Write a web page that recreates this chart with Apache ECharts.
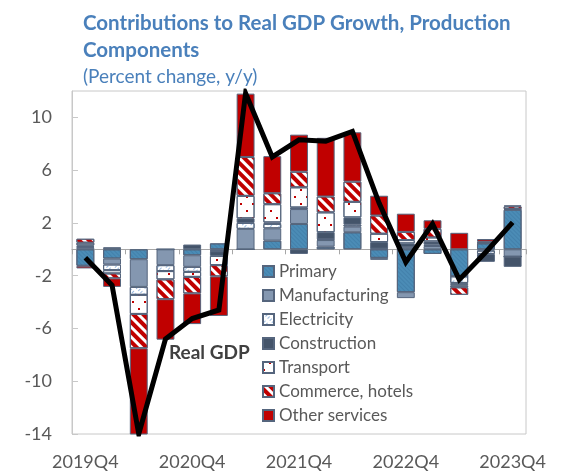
<!DOCTYPE html>
<html>
<head>
<meta charset="utf-8">
<script src="https://cdn.jsdelivr.net/npm/echarts@6/dist/echarts.min.js"></script>
<style>
  html, body { margin: 0; padding: 0; background: #fff; }
  #chart { width: 576px; height: 472px; }
</style>
</head>
<body>
<div id="chart"></div>
<script>
// Quarters on the category axis
const quarters = ['2019Q4','2020Q1','2020Q2','2020Q3','2020Q4','2021Q1','2021Q2','2021Q3',
  '2021Q4','2022Q1','2022Q2','2022Q3','2022Q4','2023Q1','2023Q2','2023Q3','2023Q4'];

// Contributions by production component (percentage points)
const primary       = [-1.25, -0.70, -0.75, 0.00, -0.45, 0.45, 0.00, 0.66, 1.92, 0.20, 1.29, -0.65, -3.25, -0.35, -2.05, 0.45, 3.00];
const manufacturing = [0.15, -0.45, -2.10, -1.20, -0.88, -0.10, 1.55, 0.93, 1.13, 0.50, 0.43, -0.15, -0.45, 0.25, 0.00, -0.10, -0.55];
const electricity   = [0.05, -0.43, -0.60, -0.45, -0.38, -0.05, 0.45, 0.33, 0.12, 0.05, 0.15, 0.05, 0.15, 0.10, -0.50, -0.25, 0.00];
const construction  = [0.10, 0.16, 0.00, 0.00, 0.36, -0.35, 0.35, 0.12, -0.35, 0.55, 0.55, 0.50, 0.30, 0.25, -0.18, -0.60, -0.78];
const transport     = [0.20, -0.25, -1.45, -0.63, -0.38, -0.70, 1.70, 1.38, 1.53, 1.50, 1.18, 0.63, 0.25, 0.30, -0.15, 0.05, 0.05];
const commerce      = [0.30, -0.37, -2.60, -1.50, -1.25, -0.85, 2.95, 0.83, 1.18, 1.20, 1.53, 1.38, 0.62, 0.65, -0.57, 0.08, 0.20];
const otherServices = [-0.20, -0.65, -6.55, -3.07, -2.33, -3.00, 4.80, 2.81, 2.81, 4.45, 3.74, 1.50, 1.38, 0.65, 1.25, 0.20, 0.08];

// Real GDP growth, y/y
const realGDP = [-0.64, -2.72, -14.0, -6.8, -5.25, -4.6, 11.83, 7.0, 8.3, 8.2, 8.94, 3.5, -0.97, 1.92, -2.3, -0.2, 2.04];

// Value-axis tick labels
const yTickLabels = [-14, -10, -6, -2, 2, 6, 10];

const FONT = 'Lato';
const GREY_TEXT = '#595959';
const TITLE_BLUE = '#4a80bb';
const OUTLINE = '#55657d';

const components = [
  { name: 'Primary', data: primary, style: {
      color: '#4b8cb6',
      decal: { symbol: 'rect', symbolSize: 1, color: 'rgba(30,80,120,0.18)',
               dashArrayX: [1, 0], dashArrayY: [1, 2], rotation: Math.PI / 4 } } },
  { name: 'Manufacturing', data: manufacturing, style: { color: '#8497b0' } },
  { name: 'Electricity', data: electricity, style: {
      color: '#ffffff',
      decal: { symbol: 'rect', symbolSize: 1, color: '#9bbbe0',
               dashArrayX: [3, 3], dashArrayY: [1, 2], rotation: -Math.PI / 4 } } },
  { name: 'Construction', data: construction, style: { color: '#44546a' } },
  { name: 'Transport', data: transport, style: {
      color: '#ffffff',
      decal: { symbol: 'rect', symbolSize: 1, color: '#c00000',
               dashArrayX: [[2, 10], [0, 6, 2, 4]], dashArrayY: [2, 5] } } },
  { name: 'Commerce, hotels', data: commerce, style: {
      color: '#ffffff',
      decal: { symbol: 'rect', symbolSize: 1, color: '#c00000',
               dashArrayX: [1, 0], dashArrayY: [4, 3], rotation: Math.PI / 4 } } },
  { name: 'Other services', data: otherServices, style: { color: '#c00000' } }
];

const barSeries = components.map(c => ({
  name: c.name,
  type: 'bar',
  stack: 'contrib',
  xAxisIndex: 0,
  yAxisIndex: 0,
  barWidth: '67%',
  data: c.data,
  itemStyle: Object.assign({ borderColor: OUTLINE, borderWidth: 1 }, c.style),
  emphasis: { disabled: true }
}));

const chart = echarts.init(document.getElementById('chart'), null, { renderer: 'canvas' });

chart.setOption({
  animation: false,
  backgroundColor: '#ffffff',
  title: {
    text: 'Contributions to Real GDP Growth, Production\nComponents',
    subtext: '(Percent change, y/y)',
    left: 78,
    top: 5,
    itemGap: 0,
    textStyle: { fontFamily: FONT, fontWeight: 'bold', fontSize: 20.5, lineHeight: 27, color: TITLE_BLUE },
    subtextStyle: { fontFamily: FONT, fontSize: 19, lineHeight: 26, color: TITLE_BLUE }
  },
  legend: {
    data: components.map(c => c.name),
    orient: 'vertical',
    left: 262,
    top: 263,
    icon: 'rect',
    itemWidth: 11,
    itemHeight: 11,
    itemGap: 7,
    padding: 0,
    selectedMode: false,
    textStyle: { fontFamily: FONT, fontSize: 17, lineHeight: 17, color: GREY_TEXT }
  },
  grid: {
    left: 72, right: 50, top: 91, bottom: 38,
    show: true, borderColor: '#c8c8c8', borderWidth: 1,
    containLabel: false
  },
  xAxis: [
    {
      type: 'category',
      data: quarters,
      axisLine: { onZero: true, lineStyle: { color: '#a6a6a6', width: 1 } },
      axisTick: { show: true, interval: 1, length: 5, lineStyle: { color: '#a6a6a6' } },
      axisLabel: { show: false },
      splitLine: { show: false }
    },
    {
      type: 'category',
      data: quarters,
      position: 'bottom',
      axisLine: { show: false, onZero: false },
      axisTick: { show: false },
      axisLabel: { interval: 3, margin: 19, fontFamily: FONT, fontSize: 18, color: GREY_TEXT },
      splitLine: { show: false }
    }
  ],
  yAxis: {
    type: 'value',
    min: -14,
    max: 12,
    interval: 4,
    axisLine: { show: true, lineStyle: { color: '#c8c8c8' } },
    axisTick: { show: true, inside: true, length: 6, lineStyle: { color: '#c8c8c8' } },
    splitLine: { show: false },
    axisLabel: {
      showMaxLabel: false,
      margin: 20,
      fontFamily: FONT,
      fontSize: 18,
      color: GREY_TEXT,
      formatter: v => (yTickLabels.indexOf(v) >= 0 ? String(v) : '')
    }
  },
  series: barSeries.concat([{
    name: 'Real GDP',
    type: 'line',
    xAxisIndex: 0,
    yAxisIndex: 0,
    data: realGDP,
    symbol: 'none',
    z: 5,
    lineStyle: { color: '#000000', width: 5, join: 'miter' },
    emphasis: { disabled: true }
  }]),
  graphic: [{
    type: 'text',
    left: 169,
    top: 343,
    style: { text: 'Real GDP', fontFamily: FONT, fontWeight: 'bold', fontSize: 19, fill: '#404040' }
  }]
});
</script>
</body>
</html>
